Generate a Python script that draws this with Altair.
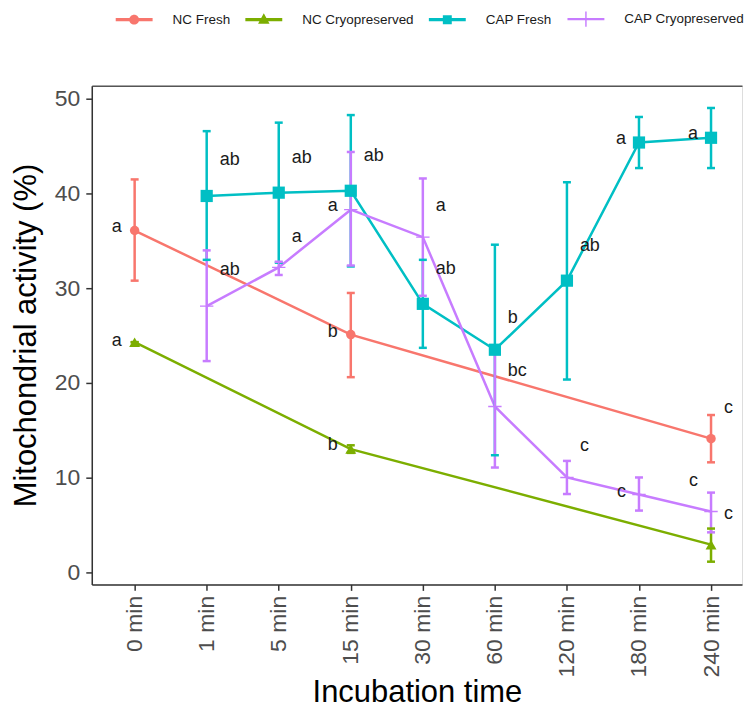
import json
import altair as alt
import pandas as pd

# ---------------- data ----------------
times = ["0 min", "1 min", "5 min", "15 min", "30 min", "60 min", "120 min", "180 min", "240 min"]
series_names = ["NC Fresh", "NC Cryopreserved", "CAP Fresh", "CAP Cryopreserved"]

nc_fresh_time = ["0 min", "15 min", "240 min"]
nc_fresh_mean = [36.1, 25.1, 14.1]
nc_fresh_lo = [30.8, 20.6, 11.6]
nc_fresh_hi = [41.5, 29.5, 16.6]

nc_cryo_time = ["0 min", "15 min", "240 min"]
nc_cryo_mean = [24.3, 13.0, 2.9]
nc_cryo_lo = [24.3, 12.6, 1.1]
nc_cryo_hi = [24.3, 13.4, 4.6]

cap_time = ["1 min", "5 min", "15 min", "30 min", "60 min", "120 min", "180 min", "240 min"]
cap_fresh_mean = [39.75, 40.1, 40.3, 28.35, 23.5, 30.8, 45.4, 45.9]
cap_fresh_lo = [33.0, 32.7, 32.3, 23.7, 12.35, 20.35, 42.7, 42.7]
cap_fresh_hi = [46.6, 47.5, 48.3, 33.0, 34.6, 41.2, 48.1, 49.05]

cap_cryo_mean = [28.1, 32.2, 38.3, 35.4, 17.5, 10.0, 8.2, 6.4]
cap_cryo_lo = [22.3, 31.4, 32.4, 29.2, 11.05, 8.25, 6.5, 4.2]
cap_cryo_hi = [34.0, 32.8, 44.4, 41.6, 23.9, 11.75, 10.0, 8.4]

# significance letters
label_time = ["0 min", "0 min", "1 min", "5 min", "15 min", "1 min", "5 min", "15 min",
              "15 min", "15 min", "30 min", "30 min", "60 min", "60 min", "120 min",
              "120 min", "180 min", "240 min", "180 min", "240 min", "240 min", "240 min"]
label_y = [36.5, 24.4, 43.5, 43.8, 44.0, 31.9, 35.4, 38.7,
           25.4, 13.4, 38.7, 32.0, 26.8, 21.2, 34.5,
           13.3, 45.8, 46.3, 8.5, 17.3, 9.6, 6.1]
label_text = ["a", "a", "ab", "ab", "ab", "ab", "a", "a",
              "b", "b", "a", "ab", "b", "bc", "ab",
              "c", "a", "a", "c", "c", "c", "c"]
label_side = ["left", "left", "right", "right", "right", "right", "right", "left",
              "left", "left", "right", "right", "right", "right", "right",
              "right", "left", "left", "left", "right", "left", "right"]

# ---------------- tables ----------------
frames = []
for name, t, m, lo, hi in [
    ("NC Fresh", nc_fresh_time, nc_fresh_mean, nc_fresh_lo, nc_fresh_hi),
    ("NC Cryopreserved", nc_cryo_time, nc_cryo_mean, nc_cryo_lo, nc_cryo_hi),
    ("CAP Fresh", cap_time, cap_fresh_mean, cap_fresh_lo, cap_fresh_hi),
    ("CAP Cryopreserved", cap_time, cap_cryo_mean, cap_cryo_lo, cap_cryo_hi),
]:
    frames.append(pd.DataFrame({"series": name, "time": t, "mean": m, "lo": lo, "hi": hi}))
df = pd.concat(frames, ignore_index=True)
df["ti"] = df["time"].map(times.index)

labels = pd.DataFrame({"time": label_time, "ly": label_y, "txt": label_text, "side": label_side})
labels["ti"] = labels["time"].map(times.index)

# ---------------- styling ----------------
colors = ["#F8766D", "#7CAE00", "#00BFC4", "#C77CFF"]
cross_path = "M-1,-0.1L1,-0.1L1,0.1L-1,0.1Z M-0.1,-1L0.1,-1L0.1,1L-0.1,1Z"
point_shapes = ["circle", "triangle-up", "square", cross_path]
point_sizes = [90, 180, 81, 225]

cx = 1.3125
line_p = "M-1,-0.2L3.625,-0.2L3.625,0.2L-1,0.2Z"
line_thin = "M-1,-0.14L3.625,-0.14L3.625,0.14L-1,0.14Z"
legend_paths = [
    line_p + f" M{cx-0.62},0 A0.62,0.62 0 1,1 {cx+0.62},0 A0.62,0.62 0 1,1 {cx-0.62},0 Z",
    line_p + f" M{cx},-0.8 L{cx+0.72},0.5 L{cx-0.72},0.5 Z",
    line_p + f" M{cx-0.56},-0.56 L{cx+0.56},-0.56 L{cx+0.56},0.56 L{cx-0.56},0.56 Z",
    line_thin + f" M{cx-0.09},-0.95 L{cx+0.09},-0.95 L{cx+0.09},0.95 L{cx-0.09},0.95 Z",
]

FONT = "Liberation Sans"
xscale = alt.Scale(domain=[-0.595, 8.43], nice=False, zero=False)
yscale = alt.Scale(domain=[-1.3, 51.4], nice=False, zero=False)
cscale = alt.Scale(domain=series_names, range=colors)
label_expr = json.dumps(times) + "[datum.value]"

x_main = alt.X("ti:Q", scale=xscale, title="Incubation time",
               axis=alt.Axis(orient="bottom", values=list(range(len(times))), labelExpr=label_expr,
                             labelAngle=270, labelAlign="right", labelBaseline="middle",
                             labelFontSize=23, labelColor="#4D4D4D", labelPadding=5,
                             tickSize=6, tickWidth=1.5, tickColor="#333333",
                             domainColor="#333333", domainWidth=1.5,
                             titleFontSize=31, titleColor="#000000", titleFontWeight="normal",
                             titlePadding=1, grid=False))
x_plain = alt.X("ti:Q", scale=xscale, axis=None)
x_top = alt.X("ti:Q", scale=xscale,
              axis=alt.Axis(orient="top", labels=False, ticks=False, title=None,
                            domainColor="#555555", domainWidth=1.5, grid=False))

y_axis = alt.Axis(values=[0, 10, 20, 30, 40, 50], labelFontSize=23, labelColor="#4D4D4D",
                  labelPadding=6, tickSize=6, tickWidth=1.5, tickColor="#333333",
                  domainColor="#333333", domainWidth=1.5, titleFontSize=31,
                  titleColor="#000000", titleFontWeight="normal", titlePadding=12,
                  grid=False)
YT = "Mitochondrial activity (%)"


def yenc(field):
    return alt.Y(field, scale=yscale, title=YT, axis=y_axis)


color_enc = alt.Color("series:N", scale=cscale, legend=None)

base = alt.Chart(df)

lines = base.mark_line(strokeWidth=2.5).encode(
    x=x_main, y=yenc("mean:Q"), color=color_enc, detail="series:N")

bars = base.mark_rule(strokeWidth=2.5).encode(
    x=x_top, y=yenc("lo:Q"), y2="hi:Q", color=color_enc)

caps_lo = base.mark_tick(thickness=2.5, size=8, opacity=1, orient="horizontal").encode(
    x=x_plain, y=yenc("lo:Q"), color=color_enc)
caps_hi = base.mark_tick(thickness=2.5, size=8, opacity=1, orient="horizontal").encode(
    x=x_plain, y=yenc("hi:Q"), color=color_enc)

points = base.mark_point(filled=True, opacity=1, strokeWidth=0).encode(
    x=x_plain, y=yenc("mean:Q"), color=color_enc,
    shape=alt.Shape("series:N", scale=alt.Scale(domain=series_names, range=point_shapes), legend=None),
    size=alt.Size("series:N", scale=alt.Scale(domain=series_names, range=point_sizes), legend=None))

txt_left = alt.Chart(labels).transform_filter(alt.datum.side == "left").mark_text(
    align="right", baseline="middle", dx=-13, fontSize=18, font=FONT, color="#1a1a1a").encode(
    x=x_plain, y=yenc("ly:Q"), text="txt:N")
txt_right = alt.Chart(labels).transform_filter(alt.datum.side == "right").mark_text(
    align="left", baseline="middle", dx=13, fontSize=18, font=FONT, color="#1a1a1a").encode(
    x=x_plain, y=yenc("ly:Q"), text="txt:N")

main = alt.layer(lines, bars, caps_lo, caps_hi, points, txt_left, txt_right)

legend_props = dict(orient="none", direction="horizontal", legendX=24, legendY=-75, title=None,
                    labelFontSize=13.5, labelFont=FONT, labelColor="#1a1a1a", labelOffset=41,
                    columnPadding=15, padding=0, symbolSize=256, symbolStrokeWidth=0,
                    symbolOpacity=1)
legend_layer = alt.Chart(pd.DataFrame({"series": series_names})).transform_filter("false").mark_point(
    filled=True, size=256, opacity=1, strokeWidth=0).encode(
    color=alt.Color("series:N", scale=cscale, legend=alt.Legend(**legend_props)),
    shape=alt.Shape("series:N", scale=alt.Scale(domain=series_names, range=legend_paths),
                    legend=alt.Legend(**legend_props)))

chart = alt.layer(main, legend_layer).resolve_scale(color="independent", shape="independent").properties(
    width=652, height=500,
    padding={"left": 2, "top": 2, "right": 0, "bottom": 0}
).configure_view(stroke=None).configure_axis(labelFont=FONT, titleFont=FONT).configure(background="white")

chart.save("out.html", embed_options={"renderer": "svg", "actions": False})
